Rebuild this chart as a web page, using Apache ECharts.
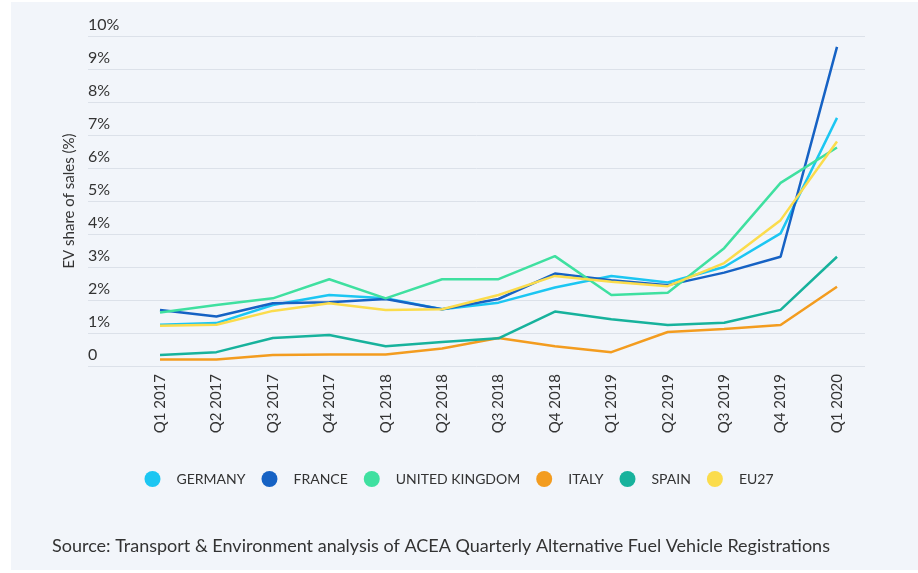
<!DOCTYPE html>
<html>
<head>
<meta charset="utf-8">
<script src="https://cdn.jsdelivr.net/npm/echarts@6/dist/echarts.min.js"></script>
<style>
html,body{margin:0;padding:0;background:#ffffff;}
#chart{width:918px;height:573px;}
</style>
</head>
<body>
<div id="chart"></div>
<script>
const categories = ['Q1 2017','Q2 2017','Q3 2017','Q4 2017','Q1 2018','Q2 2018','Q3 2018','Q4 2018','Q1 2019','Q2 2019','Q3 2019','Q4 2019','Q1 2020'];
const germany = [1.25, 1.3, 1.85, 2.15, 2.05, 1.72, 1.92, 2.38, 2.73, 2.53, 3.0, 4.02, 7.52];
const france  = [1.7, 1.5, 1.9, 1.93, 2.03, 1.72, 2.03, 2.8, 2.6, 2.45, 2.83, 3.31, 9.67];
const uk      = [1.62, 1.85, 2.05, 2.63, 2.05, 2.63, 2.63, 3.33, 2.15, 2.22, 3.57, 5.55, 6.62];
const italy   = [0.2, 0.2, 0.33, 0.35, 0.35, 0.53, 0.85, 0.6, 0.42, 1.03, 1.12, 1.24, 2.4];
const spain   = [0.33, 0.42, 0.85, 0.94, 0.6, 0.73, 0.84, 1.65, 1.42, 1.24, 1.31, 1.7, 3.31];
const eu27    = [1.22, 1.25, 1.67, 1.9, 1.7, 1.72, 2.15, 2.73, 2.55, 2.42, 3.12, 4.42, 6.8];
const yTicks = [0,1,2,3,4,5,6,7,8,9,10];

const seriesDefs = [
  {name:'GERMANY', data:germany, color:'#1cc6f2'},
  {name:'FRANCE', data:france, color:'#1662c4'},
  {name:'UNITED KINGDOM', data:uk, color:'#3fe0a0'},
  {name:'ITALY', data:italy, color:'#f39c1f'},
  {name:'SPAIN', data:spain, color:'#17b29c'},
  {name:'EU27', data:eu27, color:'#fbdc4c'}
];

const FONT = 'Lato, "Noto Sans", sans-serif';
const chart = echarts.init(document.getElementById('chart'));
const gridTop = 36, gridBottom = 573 - 366;

chart.setOption({
  backgroundColor:'#f2f5fa',
  textStyle:{fontFamily:FONT},
  graphic:[
    {type:'rect', left:0, top:0, shape:{width:11, height:573}, style:{fill:'#ffffff'}, silent:true},
    {type:'rect', left:0, top:0, shape:{width:918, height:2}, style:{fill:'#ffffff'}, silent:true},
    {type:'rect', left:0, top:570, shape:{width:918, height:3}, style:{fill:'#ffffff'}, silent:true},
    {type:'text', left:52, top:537, style:{text:'Source: Transport & Environment analysis of ACEA Quarterly Alternative Fuel Vehicle Registrations', fontSize:18, fontFamily:FONT, fill:'#333333'}}
  ],
  grid:[
    {left:88, right:918-865, top:gridTop, bottom:gridBottom},
    {left:160, right:918-837, top:gridTop, bottom:gridBottom}
  ],
  legend:{
    data:seriesDefs.map(s=>s.name),
    left:'center', top:466,
    icon:'circle', itemWidth:16, itemHeight:16, itemGap:16,
    textStyle:{fontSize:14, color:'#333333', fontFamily:FONT, padding:[0,0,0,11]}
  },
  xAxis:[
    {type:'category', gridIndex:0, data:categories, show:false},
    {type:'category', gridIndex:1, data:categories, boundaryGap:false,
     axisLine:{show:false}, axisTick:{show:false},
     axisLabel:{rotate:90, margin:8, fontSize:15, color:'#333333', fontFamily:FONT, interval:0}}
  ],
  yAxis:[
    {type:'value', gridIndex:0, min:yTicks[0], max:yTicks[yTicks.length-1], interval:1,
     name:'EV share of sales (%)', nameLocation:'middle', nameGap:10, nameRotate:90,
     nameTextStyle:{fontSize:15, color:'#333333', fontFamily:FONT},
     axisLine:{show:false}, axisTick:{show:false},
     splitLine:{lineStyle:{color:'#dce1e9', width:1}},
     axisLabel:{inside:true, margin:0, align:'left', verticalAlign:'bottom', padding:[0,0,3,0],
       fontSize:16, color:'#333333', fontFamily:FONT,
       formatter:v=> v===0 ? '0' : v+'%'}},
    {type:'value', gridIndex:1, min:yTicks[0], max:yTicks[yTicks.length-1], interval:1, show:false, splitLine:{show:false}}
  ],
  series: seriesDefs.map(s=>({
    name:s.name, type:'line', xAxisIndex:1, yAxisIndex:1, data:s.data,
    showSymbol:false, symbol:'none', color:s.color,
    lineStyle:{width:2.5, color:s.color}, itemStyle:{color:s.color}, animation:false
  }))
});
</script>
</body>
</html>
